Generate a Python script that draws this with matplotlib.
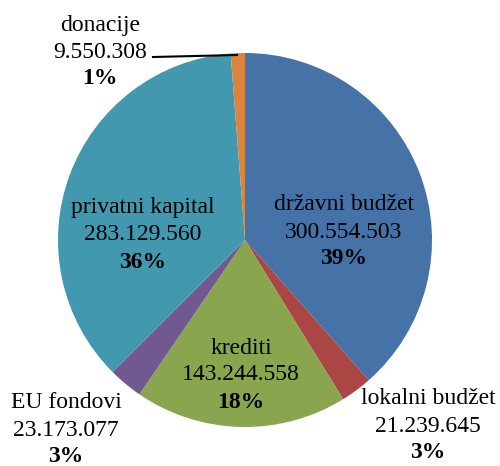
import matplotlib
matplotlib.use("Agg")
from matplotlib import pyplot as plt

# data
labels = ['državni budžet', 'lokalni budžet', 'krediti', 'EU fondovi',
          'privatni kapital', 'donacije']
values = [300554503, 21239645, 143244558, 23173077, 283129560, 9550308]
percents = [39, 3, 18, 3, 36, 1]
colors = ['#4572A7', '#AA4643', '#89A54E', '#71588F', '#4198AF', '#DB843D']

# label anchor (x, y of middle line, pixels from top-left)
label_pos = [(344, 232), (428, 426), (241, 375), (66, 430), (143, 235), (100, 52)]

W, H = 500, 466
plt.rcParams['font.family'] = ['Liberation Serif', 'DejaVu Serif']

fig = plt.figure(figsize=(W / 100, H / 100), dpi=100)
ax = fig.add_axes([0, 0, 1, 1])

cx, cy, r = 245, H - 240, 187
ax.pie(values, colors=colors, startangle=90, counterclock=False,
       center=(cx, cy), radius=r, frame=True,
       wedgeprops=dict(linewidth=0))
ax.set_xlim(0, W)
ax.set_ylim(0, H)
ax.axis('off')

fs = 17
step = 27
for name, v, p, (x, y) in zip(labels, values, percents, label_pos):
    num = f"{v:,}".replace(',', '.')
    yy = H - y
    ax.text(x, yy + step, name, ha='center', va='center', fontsize=fs)
    ax.text(x, yy, num, ha='center', va='center', fontsize=fs)
    ax.text(x, yy - step, f"{p}%", ha='center', va='center', fontsize=fs,
            fontweight='bold')

# leader line for donacije
ax.plot([153, 237], [H - 57, H - 55], color='black', linewidth=1.5)

fig.savefig('out.png', dpi=100)
